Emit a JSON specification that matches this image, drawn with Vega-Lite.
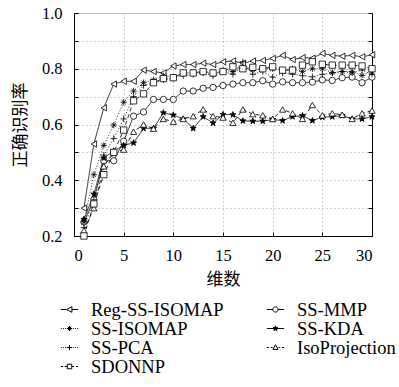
{
"$schema": "https://vega.github.io/schema/vega-lite/v6.json",
"width": 298, "height": 223,
"autosize": {"type": "none"},
"padding": {"left": 74, "top": 13, "right": 27, "bottom": 151},
"background": "white",
"config": {
  "font": "Liberation Serif",
  "view": {"stroke": "#bbb", "strokeWidth": 1},
  "axis": {"labelFont": "Liberation Serif", "labelFontSize": 16.5, "labelColor": "#000", "titleFont": "Noto Sans CJK SC", "titleFontSize": 17, "titleFontWeight": "normal", "titleColor": "#000", "domainColor": "#000", "domainWidth": 1, "tickColor": "#000", "tickSize": -4, "gridColor": "#888", "gridDash": [1, 3], "gridWidth": 0.8}
},
"data": {"values": [
{"d":1,"v":0.30,"m":"Reg-SS-ISOMAP"},{"d":2,"v":0.53,"m":"Reg-SS-ISOMAP"},{"d":3,"v":0.66,"m":"Reg-SS-ISOMAP"},{"d":4,"v":0.745,"m":"Reg-SS-ISOMAP"},{"d":5,"v":0.755,"m":"Reg-SS-ISOMAP"},{"d":6,"v":0.755,"m":"Reg-SS-ISOMAP"},{"d":7,"v":0.795,"m":"Reg-SS-ISOMAP"},{"d":8,"v":0.79,"m":"Reg-SS-ISOMAP"},{"d":9,"v":0.785,"m":"Reg-SS-ISOMAP"},{"d":10,"v":0.81,"m":"Reg-SS-ISOMAP"},{"d":11,"v":0.815,"m":"Reg-SS-ISOMAP"},{"d":12,"v":0.815,"m":"Reg-SS-ISOMAP"},{"d":13,"v":0.82,"m":"Reg-SS-ISOMAP"},{"d":14,"v":0.815,"m":"Reg-SS-ISOMAP"},{"d":15,"v":0.825,"m":"Reg-SS-ISOMAP"},{"d":16,"v":0.828,"m":"Reg-SS-ISOMAP"},{"d":17,"v":0.82,"m":"Reg-SS-ISOMAP"},{"d":18,"v":0.828,"m":"Reg-SS-ISOMAP"},{"d":19,"v":0.83,"m":"Reg-SS-ISOMAP"},{"d":20,"v":0.837,"m":"Reg-SS-ISOMAP"},{"d":21,"v":0.848,"m":"Reg-SS-ISOMAP"},{"d":22,"v":0.833,"m":"Reg-SS-ISOMAP"},{"d":23,"v":0.84,"m":"Reg-SS-ISOMAP"},{"d":24,"v":0.838,"m":"Reg-SS-ISOMAP"},{"d":25,"v":0.855,"m":"Reg-SS-ISOMAP"},{"d":26,"v":0.848,"m":"Reg-SS-ISOMAP"},{"d":27,"v":0.845,"m":"Reg-SS-ISOMAP"},{"d":28,"v":0.848,"m":"Reg-SS-ISOMAP"},{"d":29,"v":0.843,"m":"Reg-SS-ISOMAP"},{"d":30,"v":0.85,"m":"Reg-SS-ISOMAP"},
{"d":1,"v":0.25,"m":"SS-MMP"},{"d":2,"v":0.33,"m":"SS-MMP"},{"d":3,"v":0.47,"m":"SS-MMP"},{"d":4,"v":0.47,"m":"SS-MMP"},{"d":5,"v":0.54,"m":"SS-MMP"},{"d":6,"v":0.63,"m":"SS-MMP"},{"d":7,"v":0.645,"m":"SS-MMP"},{"d":8,"v":0.69,"m":"SS-MMP"},{"d":9,"v":0.69,"m":"SS-MMP"},{"d":10,"v":0.69,"m":"SS-MMP"},{"d":11,"v":0.72,"m":"SS-MMP"},{"d":12,"v":0.72,"m":"SS-MMP"},{"d":13,"v":0.73,"m":"SS-MMP"},{"d":14,"v":0.733,"m":"SS-MMP"},{"d":15,"v":0.74,"m":"SS-MMP"},{"d":16,"v":0.745,"m":"SS-MMP"},{"d":17,"v":0.75,"m":"SS-MMP"},{"d":18,"v":0.75,"m":"SS-MMP"},{"d":19,"v":0.757,"m":"SS-MMP"},{"d":20,"v":0.745,"m":"SS-MMP"},{"d":21,"v":0.753,"m":"SS-MMP"},{"d":22,"v":0.75,"m":"SS-MMP"},{"d":23,"v":0.75,"m":"SS-MMP"},{"d":24,"v":0.752,"m":"SS-MMP"},{"d":25,"v":0.76,"m":"SS-MMP"},{"d":26,"v":0.758,"m":"SS-MMP"},{"d":27,"v":0.768,"m":"SS-MMP"},{"d":28,"v":0.77,"m":"SS-MMP"},{"d":29,"v":0.75,"m":"SS-MMP"},{"d":30,"v":0.77,"m":"SS-MMP"},
{"d":1,"v":0.25,"m":"SS-ISOMAP"},{"d":2,"v":0.42,"m":"SS-ISOMAP"},{"d":3,"v":0.525,"m":"SS-ISOMAP"},{"d":4,"v":0.598,"m":"SS-ISOMAP"},{"d":5,"v":0.68,"m":"SS-ISOMAP"},{"d":6,"v":0.72,"m":"SS-ISOMAP"},{"d":7,"v":0.75,"m":"SS-ISOMAP"},{"d":8,"v":0.76,"m":"SS-ISOMAP"},{"d":9,"v":0.775,"m":"SS-ISOMAP"},{"d":10,"v":0.77,"m":"SS-ISOMAP"},{"d":11,"v":0.785,"m":"SS-ISOMAP"},{"d":12,"v":0.785,"m":"SS-ISOMAP"},{"d":13,"v":0.79,"m":"SS-ISOMAP"},{"d":14,"v":0.78,"m":"SS-ISOMAP"},{"d":15,"v":0.795,"m":"SS-ISOMAP"},{"d":16,"v":0.79,"m":"SS-ISOMAP"},{"d":17,"v":0.8,"m":"SS-ISOMAP"},{"d":18,"v":0.795,"m":"SS-ISOMAP"},{"d":19,"v":0.8,"m":"SS-ISOMAP"},{"d":20,"v":0.8,"m":"SS-ISOMAP"},{"d":21,"v":0.795,"m":"SS-ISOMAP"},{"d":22,"v":0.8,"m":"SS-ISOMAP"},{"d":23,"v":0.79,"m":"SS-ISOMAP"},{"d":24,"v":0.8,"m":"SS-ISOMAP"},{"d":25,"v":0.8,"m":"SS-ISOMAP"},{"d":26,"v":0.786,"m":"SS-ISOMAP"},{"d":27,"v":0.79,"m":"SS-ISOMAP"},{"d":28,"v":0.79,"m":"SS-ISOMAP"},{"d":29,"v":0.776,"m":"SS-ISOMAP"},{"d":30,"v":0.79,"m":"SS-ISOMAP"},
{"d":1,"v":0.26,"m":"SS-KDA"},{"d":2,"v":0.35,"m":"SS-KDA"},{"d":3,"v":0.48,"m":"SS-KDA"},{"d":4,"v":0.505,"m":"SS-KDA"},{"d":5,"v":0.525,"m":"SS-KDA"},{"d":6,"v":0.534,"m":"SS-KDA"},{"d":7,"v":0.586,"m":"SS-KDA"},{"d":8,"v":0.586,"m":"SS-KDA"},{"d":9,"v":0.642,"m":"SS-KDA"},{"d":10,"v":0.634,"m":"SS-KDA"},{"d":11,"v":0.62,"m":"SS-KDA"},{"d":12,"v":0.586,"m":"SS-KDA"},{"d":13,"v":0.628,"m":"SS-KDA"},{"d":14,"v":0.605,"m":"SS-KDA"},{"d":15,"v":0.636,"m":"SS-KDA"},{"d":16,"v":0.635,"m":"SS-KDA"},{"d":17,"v":0.613,"m":"SS-KDA"},{"d":18,"v":0.612,"m":"SS-KDA"},{"d":19,"v":0.612,"m":"SS-KDA"},{"d":20,"v":0.618,"m":"SS-KDA"},{"d":21,"v":0.614,"m":"SS-KDA"},{"d":22,"v":0.628,"m":"SS-KDA"},{"d":23,"v":0.632,"m":"SS-KDA"},{"d":24,"v":0.614,"m":"SS-KDA"},{"d":25,"v":0.626,"m":"SS-KDA"},{"d":26,"v":0.628,"m":"SS-KDA"},{"d":27,"v":0.632,"m":"SS-KDA"},{"d":28,"v":0.62,"m":"SS-KDA"},{"d":29,"v":0.62,"m":"SS-KDA"},{"d":30,"v":0.628,"m":"SS-KDA"},
{"d":1,"v":0.23,"m":"SS-PCA"},{"d":2,"v":0.33,"m":"SS-PCA"},{"d":3,"v":0.49,"m":"SS-PCA"},{"d":4,"v":0.55,"m":"SS-PCA"},{"d":5,"v":0.62,"m":"SS-PCA"},{"d":6,"v":0.70,"m":"SS-PCA"},{"d":7,"v":0.74,"m":"SS-PCA"},{"d":8,"v":0.75,"m":"SS-PCA"},{"d":9,"v":0.76,"m":"SS-PCA"},{"d":10,"v":0.766,"m":"SS-PCA"},{"d":11,"v":0.775,"m":"SS-PCA"},{"d":12,"v":0.78,"m":"SS-PCA"},{"d":13,"v":0.785,"m":"SS-PCA"},{"d":14,"v":0.775,"m":"SS-PCA"},{"d":15,"v":0.79,"m":"SS-PCA"},{"d":16,"v":0.78,"m":"SS-PCA"},{"d":17,"v":0.825,"m":"SS-PCA"},{"d":18,"v":0.78,"m":"SS-PCA"},{"d":19,"v":0.79,"m":"SS-PCA"},{"d":20,"v":0.77,"m":"SS-PCA"},{"d":21,"v":0.785,"m":"SS-PCA"},{"d":22,"v":0.78,"m":"SS-PCA"},{"d":23,"v":0.775,"m":"SS-PCA"},{"d":24,"v":0.771,"m":"SS-PCA"},{"d":25,"v":0.78,"m":"SS-PCA"},{"d":26,"v":0.785,"m":"SS-PCA"},{"d":27,"v":0.79,"m":"SS-PCA"},{"d":28,"v":0.785,"m":"SS-PCA"},{"d":29,"v":0.795,"m":"SS-PCA"},{"d":30,"v":0.78,"m":"SS-PCA"},
{"d":1,"v":0.22,"m":"IsoProjection"},{"d":2,"v":0.30,"m":"IsoProjection"},{"d":3,"v":0.45,"m":"IsoProjection"},{"d":4,"v":0.50,"m":"IsoProjection"},{"d":5,"v":0.51,"m":"IsoProjection"},{"d":6,"v":0.574,"m":"IsoProjection"},{"d":7,"v":0.60,"m":"IsoProjection"},{"d":8,"v":0.585,"m":"IsoProjection"},{"d":9,"v":0.62,"m":"IsoProjection"},{"d":10,"v":0.61,"m":"IsoProjection"},{"d":11,"v":0.62,"m":"IsoProjection"},{"d":12,"v":0.63,"m":"IsoProjection"},{"d":13,"v":0.654,"m":"IsoProjection"},{"d":14,"v":0.63,"m":"IsoProjection"},{"d":15,"v":0.625,"m":"IsoProjection"},{"d":16,"v":0.606,"m":"IsoProjection"},{"d":17,"v":0.654,"m":"IsoProjection"},{"d":18,"v":0.637,"m":"IsoProjection"},{"d":19,"v":0.633,"m":"IsoProjection"},{"d":20,"v":0.62,"m":"IsoProjection"},{"d":21,"v":0.654,"m":"IsoProjection"},{"d":22,"v":0.64,"m":"IsoProjection"},{"d":23,"v":0.62,"m":"IsoProjection"},{"d":24,"v":0.67,"m":"IsoProjection"},{"d":25,"v":0.633,"m":"IsoProjection"},{"d":26,"v":0.64,"m":"IsoProjection"},{"d":27,"v":0.635,"m":"IsoProjection"},{"d":28,"v":0.62,"m":"IsoProjection"},{"d":29,"v":0.64,"m":"IsoProjection"},{"d":30,"v":0.65,"m":"IsoProjection"},
{"d":1,"v":0.20,"m":"SDONNP"},{"d":2,"v":0.315,"m":"SDONNP"},{"d":3,"v":0.42,"m":"SDONNP"},{"d":4,"v":0.50,"m":"SDONNP"},{"d":5,"v":0.58,"m":"SDONNP"},{"d":6,"v":0.685,"m":"SDONNP"},{"d":7,"v":0.71,"m":"SDONNP"},{"d":8,"v":0.75,"m":"SDONNP"},{"d":9,"v":0.765,"m":"SDONNP"},{"d":10,"v":0.768,"m":"SDONNP"},{"d":11,"v":0.785,"m":"SDONNP"},{"d":12,"v":0.785,"m":"SDONNP"},{"d":13,"v":0.79,"m":"SDONNP"},{"d":14,"v":0.785,"m":"SDONNP"},{"d":15,"v":0.79,"m":"SDONNP"},{"d":16,"v":0.807,"m":"SDONNP"},{"d":17,"v":0.80,"m":"SDONNP"},{"d":18,"v":0.805,"m":"SDONNP"},{"d":19,"v":0.80,"m":"SDONNP"},{"d":20,"v":0.807,"m":"SDONNP"},{"d":21,"v":0.795,"m":"SDONNP"},{"d":22,"v":0.795,"m":"SDONNP"},{"d":23,"v":0.813,"m":"SDONNP"},{"d":24,"v":0.825,"m":"SDONNP"},{"d":25,"v":0.816,"m":"SDONNP"},{"d":26,"v":0.813,"m":"SDONNP"},{"d":27,"v":0.813,"m":"SDONNP"},{"d":28,"v":0.813,"m":"SDONNP"},{"d":29,"v":0.81,"m":"SDONNP"},{"d":30,"v":0.80,"m":"SDONNP"}
]},
"layer": [
  {
    "mark": {"type": "line", "color": "#111", "strokeWidth": 0.9},
    "encoding": {
      "x": {"field": "d", "type": "quantitative", "scale": {"domain": [0, 30], "nice": false}, "axis": {"values": [0, 5, 10, 15, 20, 25, 30], "title": "维数", "labelFont": "Liberation Serif", "labelPadding": 15, "titlePadding": 8}},
      "y": {"field": "v", "type": "quantitative", "scale": {"domain": [0.2, 1.0], "nice": false, "zero": false}, "axis": {"values": [0.2, 0.3, 0.4, 0.5, 0.6, 0.7, 0.8, 0.9, 1.0], "labelFont": "Liberation Serif", "labelExpr": "round(datum.value*10) % 2 == 0 ? format(datum.value, '.1f') : ''", "title": "正确识别率", "labelPadding": 16, "titlePadding": 12}},
      "strokeDash": {"field": "m", "type": "nominal", "scale": {"domain": ["Reg-SS-ISOMAP", "SS-ISOMAP", "SS-PCA", "SDONNP", "SS-MMP", "SS-KDA", "IsoProjection"], "range": [[1, 0], [1, 2], [1, 2], [4, 3], [1, 0], [1, 0], [4, 3]]}, "legend": null}
    }
  },
  {
    "mark": {"type": "point", "opacity": 1, "strokeWidth": 0.8, "stroke": "#000", "size": 40},
    "encoding": {
      "x": {"field": "d", "type": "quantitative", "axis": null},
      "y": {"field": "v", "type": "quantitative", "axis": null},
      "shape": {"field": "m", "type": "nominal", "scale": {"domain": ["Reg-SS-ISOMAP", "SS-ISOMAP", "SS-PCA", "SDONNP", "SS-MMP", "SS-KDA", "IsoProjection"], "range": ["triangle-left", "M-1,0H1M0,-1V1M-0.7,-0.7L0.7,0.7M-0.7,0.7L0.7,-0.7", "M-1,0H1M0,-1V1", "square", "circle", "M0,-1L0.24,-0.33L0.95,-0.31L0.38,0.12L0.59,0.81L0,0.4L-0.59,0.81L-0.38,0.12L-0.95,-0.31L-0.24,-0.33Z", "triangle-up"]}, "legend": null},
      "fill": {"field": "m", "type": "nominal", "scale": {"domain": ["Reg-SS-ISOMAP", "SS-ISOMAP", "SS-PCA", "SDONNP", "SS-MMP", "SS-KDA", "IsoProjection"], "range": ["#fff", "#000", "#000", "#fff", "#fff", "#000", "#fff"]}, "legend": null}
    }
  },
  {
    "mark": {"type": "point", "opacity": 0, "strokeWidth": 1, "stroke": "#000", "size": 300},
    "encoding": {
      "x": {"field": "d", "type": "quantitative", "axis": {"orient": "top", "labels": false, "ticks": false, "title": null, "grid": false, "domainColor": "#bbb"}},
      "y": {"field": "v", "type": "quantitative", "axis": {"orient": "right", "labels": false, "title": null, "grid": false, "values": [0.2, 0.3, 0.4, 0.5, 0.6, 0.7, 0.8, 0.9, 1.0]}},
      "shape": {"field": "m", "type": "nominal", "scale": {"domain": ["Reg-SS-ISOMAP", "SS-ISOMAP", "SS-PCA", "SDONNP", "SS-MMP", "SS-KDA", "IsoProjection"], "range": [
        "M-1,0H-0.33M0.28,0H1M-0.33,0L0.28,-0.33L0.28,0.33Z",
        "M-1,0H-0.9M-0.75,0H-0.65M-0.5,0H-0.4M0.4,0H0.5M0.65,0H0.75M0.9,0H1M-0.3,0H0.3M0,-0.3V0.3M-0.21,-0.21L0.21,0.21M-0.21,0.21L0.21,-0.21",
        "M-1,0H-0.9M-0.75,0H-0.65M-0.5,0H-0.4M0.4,0H0.5M0.65,0H0.75M0.9,0H1M-0.3,0H0.3M0,-0.3V0.3",
        "M-1,0H-0.75M-0.55,0H-0.3M0.3,0H0.55M0.75,0H1M-0.26,-0.26H0.26V0.26H-0.26Z",
        "M-1,0H-0.3M0.3,0H1M-0.3,0A0.3,0.3,0,1,0,0.3,0A0.3,0.3,0,1,0,-0.3,0Z",
        "M-1,0H1M0,-0.3L0.072,-0.1L0.285,-0.093L0.114,0.036L0.177,0.243L0,0.12L-0.177,0.243L-0.114,0.036L-0.285,-0.093L-0.072,-0.1Z",
        "M-1,0H-0.75M-0.55,0H-0.35M0.35,0H0.55M0.75,0H1M0,-0.32L0.3,0.22L-0.3,0.22Z"]},
        "legend": {"title": null, "orient": "none", "legendX": -14, "legendY": 287, "columns": 2, "columnPadding": 40, "rowPadding": 0, "padding": 0, "labelFont": "Liberation Serif", "labelFontSize": 18.5, "labelColor": "#000", "labelOffset": 12, "symbolSize": 300, "symbolStrokeWidth": 1, "symbolStrokeColor": "#000", "encode": {"symbols": {"update": {"opacity": {"value": 1}, "strokeOpacity": {"value": 1}, "fillOpacity": {"value": 1}}}}}},
      "fill": {"field": "m", "type": "nominal", "scale": {"domain": ["Reg-SS-ISOMAP", "SS-ISOMAP", "SS-PCA", "SDONNP", "SS-MMP", "SS-KDA", "IsoProjection"], "range": ["#fff", "#000", "#000", "#fff", "#fff", "#000", "#fff"]},
        "legend": {"title": null, "orient": "none", "legendX": -14, "legendY": 287, "columns": 2, "columnPadding": 40, "rowPadding": 0, "padding": 0, "labelFont": "Liberation Serif", "labelFontSize": 18.5, "labelColor": "#000", "labelOffset": 12, "symbolSize": 300, "symbolStrokeWidth": 1, "symbolStrokeColor": "#000", "encode": {"symbols": {"update": {"opacity": {"value": 1}, "strokeOpacity": {"value": 1}, "fillOpacity": {"value": 1}}}}}}
    }
  }
],
"resolve": {"scale": {"shape": "independent", "fill": "independent"}, "axis": {"x": "independent", "y": "independent"}}
}
